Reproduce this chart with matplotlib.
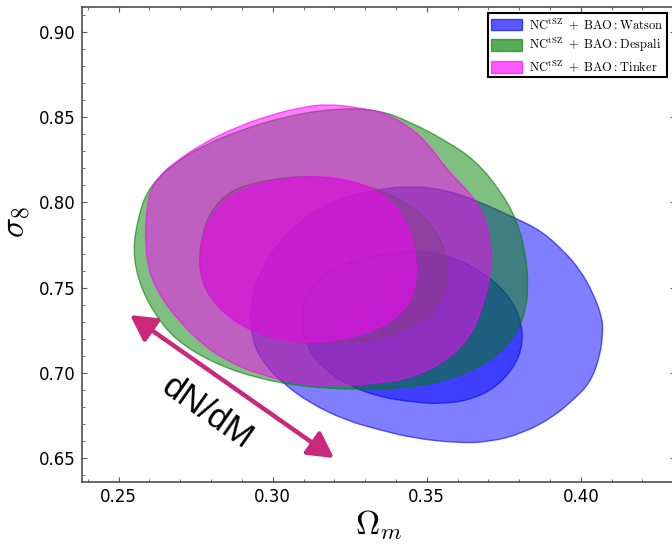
import matplotlib
matplotlib.use("Agg")
import matplotlib.pyplot as plt
import numpy as np
from matplotlib.path import Path
from matplotlib.patches import PathPatch, Patch
from matplotlib.ticker import MultipleLocator

plt.rcParams["mathtext.fontset"] = "cm"

# Contour vertices in the (Omega_m, sigma_8) plane, 95% and 68% levels

watson_95_om = [0.2926, 0.2933, 0.2959, 0.2998, 0.3056, 0.3154, 0.3251, 0.3348,
                0.3456, 0.3566, 0.3673, 0.3780, 0.3868, 0.3942, 0.3998, 0.4040,
                0.4069, 0.4072, 0.4062, 0.4030, 0.3975, 0.3910, 0.3813, 0.3705,
                0.3598, 0.3456, 0.3348, 0.3235, 0.3121, 0.3040, 0.2975, 0.2939]
watson_95_s8 = [0.7311, 0.7445, 0.7586, 0.7709, 0.7838, 0.7973, 0.8043, 0.8078,
                0.8096, 0.8072, 0.8002, 0.7914, 0.7838, 0.7721, 0.7604, 0.7469,
                0.7328, 0.7240, 0.7094, 0.6941, 0.6842, 0.6742, 0.6648, 0.6596,
                0.6590, 0.6619, 0.6666, 0.6724, 0.6824, 0.6930, 0.7047, 0.7164]

watson_68_om = [0.3089, 0.3099, 0.3137, 0.3186, 0.3293, 0.3397, 0.3456, 0.3566,
                0.3673, 0.3761, 0.3803, 0.3813, 0.3793, 0.3728, 0.3641, 0.3543,
                0.3456, 0.3348, 0.3251, 0.3170, 0.3115]
watson_68_s8 = [0.7311, 0.7439, 0.7533, 0.7604, 0.7674, 0.7709, 0.7721, 0.7691,
                0.7604, 0.7469, 0.7328, 0.7193, 0.7059, 0.6918, 0.6842, 0.6818,
                0.6830, 0.6859, 0.6924, 0.7017, 0.7135]

despali_95_om = [0.2547, 0.2560, 0.2586, 0.2628, 0.2683, 0.2764, 0.2894, 0.3056,
                 0.3219, 0.3348, 0.3446, 0.3559, 0.3657, 0.3738, 0.3793, 0.3822,
                 0.3829, 0.3822, 0.3796, 0.3754, 0.3673, 0.3566, 0.3456, 0.3348,
                 0.3219, 0.3089, 0.2959, 0.2813, 0.2683, 0.2608, 0.2563]
despali_95_s8 = [0.7721, 0.7885, 0.8043, 0.8143, 0.8231, 0.8324, 0.8424, 0.8512,
                 0.8553, 0.8541, 0.8471, 0.8365, 0.8248, 0.8072, 0.7897, 0.7691,
                 0.7516, 0.7369, 0.7252, 0.7146, 0.7035, 0.6959, 0.6918, 0.6906,
                 0.6906, 0.6924, 0.6965, 0.7053, 0.7193, 0.7369, 0.7545]

despali_68_om = [0.2761, 0.2771, 0.2797, 0.2855, 0.2943, 0.3056, 0.3154, 0.3261,
                 0.3348, 0.3436, 0.3511, 0.3556, 0.3569, 0.3559, 0.3517, 0.3446,
                 0.3365, 0.3267, 0.3154, 0.3040, 0.2943, 0.2855, 0.2797, 0.2767]
despali_68_s8 = [0.7680, 0.7809, 0.7943, 0.8061, 0.8119, 0.8148, 0.8154, 0.8119,
                 0.8072, 0.7996, 0.7885, 0.7750, 0.7621, 0.7475, 0.7357, 0.7264,
                 0.7211, 0.7182, 0.7170, 0.7187, 0.7234, 0.7334, 0.7439, 0.7557]

tinker_95_om = [0.2589, 0.2602, 0.2634, 0.2683, 0.2774, 0.2884, 0.2991, 0.3099,
                0.3176, 0.3267, 0.3365, 0.3446, 0.3511, 0.3566, 0.3641, 0.3683,
                0.3705, 0.3709, 0.3686, 0.3641, 0.3566, 0.3456, 0.3348, 0.3219,
                0.3089, 0.2959, 0.2845, 0.2754, 0.2657, 0.2602, 0.2586]
tinker_95_s8 = [0.7926, 0.8072, 0.8160, 0.8236, 0.8348, 0.8442, 0.8512, 0.8559,
                0.8576, 0.8559, 0.8524, 0.8442, 0.8330, 0.8190, 0.8055, 0.7938,
                0.7797, 0.7604, 0.7410, 0.7211, 0.7076, 0.6976, 0.6941, 0.6924,
                0.6935, 0.6988, 0.7076, 0.7193, 0.7387, 0.7562, 0.7750]

tinker_68_om = [0.2764, 0.2777, 0.2829, 0.2917, 0.3047, 0.3154, 0.3251, 0.3332,
                0.3397, 0.3439, 0.3462, 0.3469, 0.3446, 0.3391, 0.3316, 0.3219,
                0.3121, 0.3024, 0.2926, 0.2845, 0.2790, 0.2767]
tinker_68_s8 = [0.7680, 0.7838, 0.7996, 0.8090, 0.8143, 0.8154, 0.8131, 0.8072,
                0.7984, 0.7867, 0.7721, 0.7562, 0.7410, 0.7311, 0.7240, 0.7193,
                0.7176, 0.7193, 0.7252, 0.7340, 0.7469, 0.7574]

labels = [r"$\mathrm{NC}^{\mathrm{tSZ}}\ +\ \mathrm{BAO}:\mathrm{Watson}$",
          r"$\mathrm{NC}^{\mathrm{tSZ}}\ +\ \mathrm{BAO}:\mathrm{Despali}$",
          r"$\mathrm{NC}^{\mathrm{tSZ}}\ +\ \mathrm{BAO}:\mathrm{Tinker}$"]
colors = ["#0000ff", "#008000", "#ff00ff"]

# arrow end points (Omega_m, sigma_8)
arrow_start = (0.2537, 0.7340)
arrow_end = (0.3199, 0.6502)


def smooth_path(om, s8):
    """Closed path with vertices used as quadratic control points."""
    pts = np.column_stack([om, s8])
    mids = 0.5 * (pts + np.roll(pts, -1, axis=0))
    verts = [mids[-1]]
    codes = [Path.MOVETO]
    for p, m in zip(pts, mids):
        verts += [p, m]
        codes += [Path.CURVE3, Path.CURVE3]
    return Path(verts, codes)


def draw_contour(ax, om, s8, color):
    path = smooth_path(om, s8)
    ax.add_patch(PathPatch(path, facecolor=color, edgecolor="none", alpha=0.5))
    ax.add_patch(PathPatch(path, facecolor="none", edgecolor=color, alpha=0.6, lw=1.0))


fig = plt.figure(figsize=(6.72, 5.45), dpi=100)
ax = fig.add_axes([0.1216, 0.1161, 0.8829, 0.8716])

contours = [
    (watson_95_om, watson_95_s8, watson_68_om, watson_68_s8),
    (despali_95_om, despali_95_s8, despali_68_om, despali_68_s8),
    (tinker_95_om, tinker_95_s8, tinker_68_om, tinker_68_s8),
]
for (om95, s95, om68, s68), c in zip(contours, colors):
    draw_contour(ax, om95, s95, c)
    draw_contour(ax, om68, s68, c)

ax.set_xlim(0.2380, 0.4306)
ax.set_ylim(0.6363, 0.9147)

ax.xaxis.set_major_locator(MultipleLocator(0.05))
ax.xaxis.set_minor_locator(MultipleLocator(0.01))
ax.yaxis.set_major_locator(MultipleLocator(0.05))
ax.yaxis.set_minor_locator(MultipleLocator(0.01))
ax.xaxis.set_major_formatter(plt.FormatStrFormatter("%.2f"))
ax.yaxis.set_major_formatter(plt.FormatStrFormatter("%.2f"))
ax.tick_params(which="both", direction="in", top=True, right=True, color="0.35")
ax.tick_params(which="major", length=3.6, width=0.8, labelsize=12, pad=4.5)
ax.tick_params(which="minor", length=2.0, width=0.6)
for sp in ax.spines.values():
    sp.set_color("0.25")
    sp.set_linewidth(1.1)

ax.set_xlabel(r"$\Omega_m$", fontsize=24)
ax.set_ylabel(r"$\sigma_8$", fontsize=24)
ax.xaxis.set_label_coords(0.5, -0.057)
ax.yaxis.set_label_coords(-0.083, 0.546)

handles = [Patch(facecolor=c, edgecolor=c, alpha=0.65) for c in colors]
leg = ax.legend(handles, labels, loc="upper right", bbox_to_anchor=(0.9865, 0.9867),
                borderaxespad=0, fontsize=9, fancybox=False, framealpha=1,
                edgecolor="black", handlelength=2.5, handleheight=1.0,
                handletextpad=0.6, borderpad=0.25, labelspacing=0.35)
leg.get_frame().set_linewidth(1.5)

ax.annotate("", xy=arrow_start, xytext=arrow_end,
            arrowprops=dict(arrowstyle="<|-|>,head_length=0.55,head_width=0.3",
                            color="#c9287b", lw=3.2, mutation_scale=28,
                            shrinkA=0, shrinkB=0))
ax.text(0.2787, 0.6765, "dN/dM", rotation=-35, rotation_mode="anchor",
        ha="center", va="center", fontsize=25, family="Liberation Sans")

fig.savefig("out.png", dpi=100)
